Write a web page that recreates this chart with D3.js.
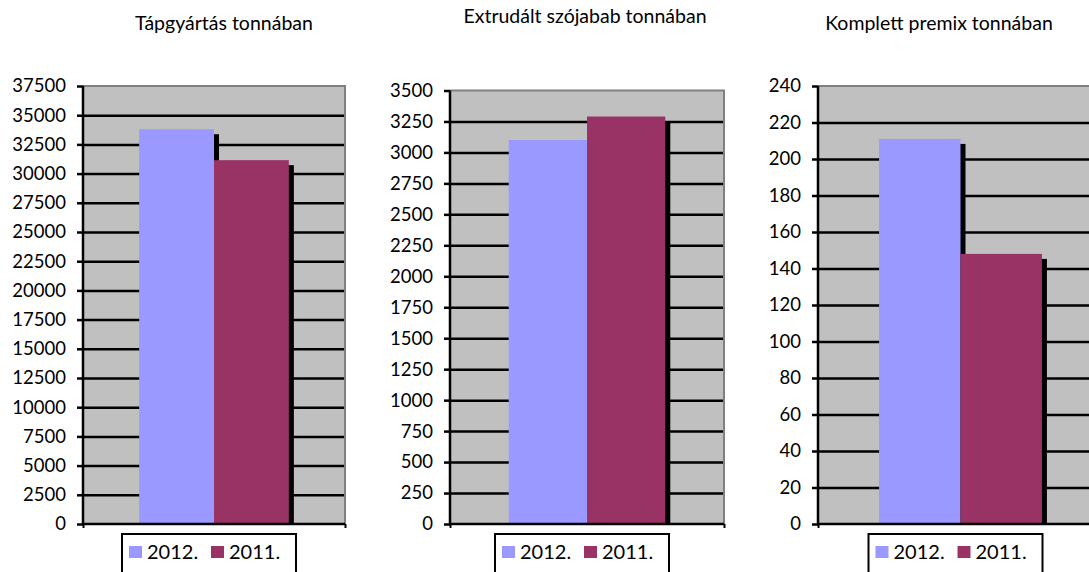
<!DOCTYPE html>
<html>
<head>
<meta charset="utf-8">
<script src="https://cdnjs.cloudflare.com/ajax/libs/d3/7.8.5/d3.min.js"></script>
<style>
  body { margin: 0; background: #fff; }
  svg { display: block; }
  .tick text { font-family: Lato, sans-serif; font-size: 18.5px; fill: #000; }
  .title { font-family: Lato, sans-serif; font-size: 19.5px; fill: #000; }
  .legend text { font-family: Lato, sans-serif; font-size: 20px; fill: #000; }
</style>
</head>
<body>
<div class="chart"></div>
<script>
// Data
const titles = ["Tápgyártás tonnában", "Extrudált szójabab tonnában", "Komplett premix tonnában"];
const seriesNames = ["2012.", "2011."];
const values2012 = [33800, 3100, 211];
const values2011 = [31150, 3290, 148];
const yMax = [37500, 3500, 240];
const yStep = [2500, 250, 20];

const colors = {"2012.": "#9999ff", "2011.": "#993366"};

// Layout of the three panels
const panels = [
  {left: 83, right: 345, top: 86, bottom: 524, titleX: 224, titleY: 30},
  {left: 450, right: 724, top: 90.5, bottom: 524, titleX: 585, titleY: 23},
  {left: 818, right: 1103, top: 86, bottom: 524, titleX: 939, titleY: 30}
];

const svg = d3.select(".chart").append("svg")
    .attr("width", 1089)
    .attr("height", 572);

panels.forEach((p, i) => {
  const width = p.right - p.left, height = p.bottom - p.top;
  const rows = seriesNames.map((s, j) => ({series: s, value: j === 0 ? values2012[i] : values2011[i]}));

  // Scales
  const xScale = d3.scaleBand()
      .domain([titles[i]])
      .range([0, width])
      .paddingInner(0)
      .paddingOuter(0.375);
  const xFacet = d3.scaleBand()
      .domain(seriesNames)
      .range([0, xScale.bandwidth()]);
  const yScale = d3.scaleLinear()
      .domain([0, yMax[i]])
      .range([height, 0]);
  const tickValues = d3.range(0, yMax[i] + yStep[i] / 2, yStep[i]);

  const g = svg.append("g")
      .attr("transform", "translate(" + [p.left, p.top] + ")");

  // Plot background
  g.append("rect")
      .attr("width", width)
      .attr("height", height)
      .attr("fill", "#c0c0c0");

  // Gridlines
  g.append("g")
      .attr("class", "grid")
      .call(d3.axisLeft(yScale)
        .tickValues(tickValues.slice(1, -1))
        .tickSize(-width)
        .tickFormat(""))
      .call(sel => sel.select(".domain").remove())
      .call(sel => sel.selectAll("line").attr("stroke", "#000").attr("stroke-width", 2.5));

  // Gray border top and right
  g.append("path")
      .attr("d", "M0,0H" + width + "V" + height)
      .attr("fill", "none")
      .attr("stroke", "#808080")
      .attr("stroke-width", 2);

  // Bars with their offset shadows
  const clipId = "clip" + i;
  g.append("clipPath").attr("id", clipId)
    .append("rect").attr("width", width).attr("height", height);

  const bars = g.append("g").attr("clip-path", "url(#" + clipId + ")");
  rows.forEach(d => {
    const x = xScale(titles[i]) + xFacet(d.series);
    bars.append("rect")
        .attr("x", x + 5)
        .attr("y", yScale(d.value) + 5)
        .attr("width", xFacet.bandwidth())
        .attr("height", height - yScale(d.value))
        .attr("fill", "#000");
    bars.append("rect")
        .attr("x", x)
        .attr("y", yScale(d.value))
        .attr("width", xFacet.bandwidth())
        .attr("height", height - yScale(d.value))
        .attr("fill", colors[d.series]);
  });

  // Y axis
  g.append("g")
      .attr("class", "axis y")
      .call(d3.axisLeft(yScale)
        .tickValues(tickValues)
        .tickSize(6)
        .tickPadding(11)
        .tickFormat(d3.format("d")))
      .call(sel => sel.select(".domain").attr("stroke", "#000").attr("stroke-width", 2.5).attr("d", "M0," + height + "V0"))
      .call(sel => sel.selectAll(".tick line").attr("stroke", "#000").attr("stroke-width", 2.5));

  // X axis
  g.append("g")
      .attr("class", "axis x")
      .attr("transform", "translate(0," + height + ")")
      .call(d3.axisBottom(d3.scaleLinear().range([0, width]))
        .tickValues([0, 1])
        .tickSize(4)
        .tickFormat(""))
      .call(sel => sel.select(".domain").attr("stroke", "#000").attr("stroke-width", 2.5).attr("d", "M-1,0H" + width))
      .call(sel => sel.selectAll(".tick line").attr("stroke", "#000").attr("stroke-width", 2));

  // Title
  svg.append("text")
      .attr("class", "title")
      .attr("x", p.titleX)
      .attr("y", p.titleY)
      .attr("text-anchor", "middle")
      .text(titles[i]);

  // Legend
  const cx = p.left + width / 2 - 5;
  const legend = svg.append("g")
      .attr("class", "legend")
      .attr("transform", "translate(" + [cx - 87, 534] + ")");
  legend.append("rect")
      .attr("width", 174)
      .attr("height", 50)
      .attr("fill", "#fff")
      .attr("stroke", "#000")
      .attr("stroke-width", 2);
  seriesNames.forEach((s, j) => {
    legend.append("rect")
        .attr("x", 7 + j * 82)
        .attr("y", 12)
        .attr("width", 13)
        .attr("height", 12)
        .attr("fill", colors[s]);
    legend.append("text")
        .attr("x", 25 + j * 82)
        .attr("y", 25)
        .text(s);
  });
});
</script>
</body>
</html>
